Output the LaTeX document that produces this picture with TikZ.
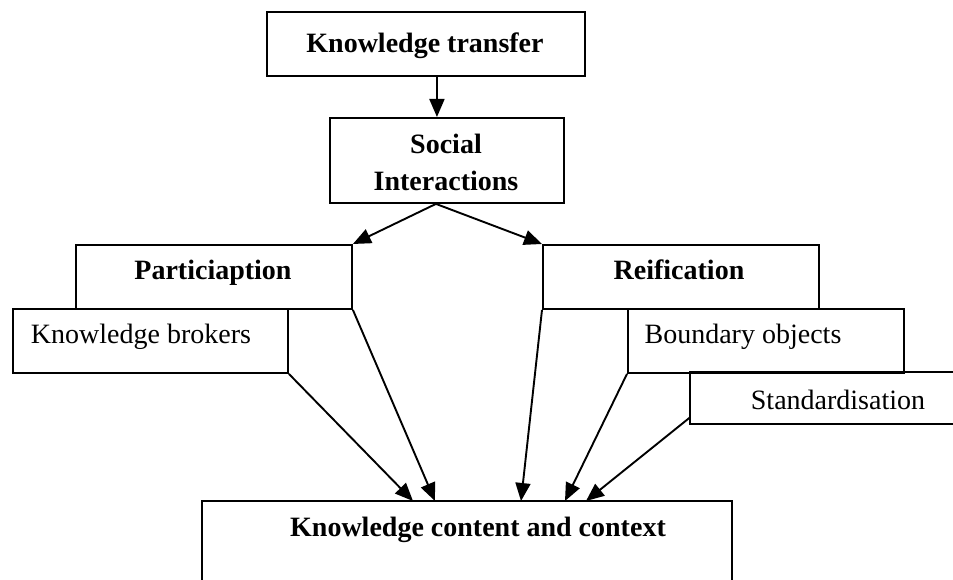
\documentclass[tikz,border=0pt]{standalone}
\usepackage{fontspec}
\setmainfont{Liberation Serif}
\usetikzlibrary{arrows.meta,calc}
\begin{document}
\begin{tikzpicture}[x=1pt,y=-1pt,
  box/.style={draw,line width=1.9pt,inner sep=0pt,anchor=north west},
  openbox/.style={inner sep=0pt,anchor=north west},
  edge/.style={line width=1.9pt},
  lbl/.style={anchor=base,inner sep=0pt,font=\fontsize{28}{36}\selectfont},
  blbl/.style={anchor=base,inner sep=0pt,font=\fontsize{28}{36}\selectfont\bfseries},
  conn/.style={line width=1.9pt,-{Triangle[length=18pt,width=15pt]}}]
\useasboundingbox (0,0) rectangle (953,580);

% boxes
\node[box,minimum width=318pt,minimum height=64pt] (kt) at (266,11) {};
\node[box,minimum width=234pt,minimum height=85pt] (si) at (329,117) {};
\node[box,minimum width=276pt,minimum height=64pt] (par) at (75,244) {};
\node[box,minimum width=275pt,minimum height=64pt] (kb) at (12,308) {};
\node[box,minimum width=276pt,minimum height=64pt] (rei) at (542,244) {};
\node[box,minimum width=276pt,minimum height=64pt] (bo) at (627,308) {};
\node[openbox,minimum width=263pt,minimum height=52pt] (std) at (690,372) {};
\draw[edge] (std.north east) -- (std.north west) -- (std.south west) -- (std.south east);
\node[openbox,minimum width=530pt,minimum height=79pt] (kcc) at (202,501) {};
\draw[edge] (kcc.south west) -- (kcc.north west) -- (kcc.north east) -- (kcc.south east);

% texts
\node[blbl] (ktt) at (425,53) {Knowledge transfer};
\node[blbl] (sit1) at (446,154) {Social};
\node[blbl] (sit2) at (446,191) {Interactions};
\node[blbl] (part) at (213,279) {Particiaption};
\node[blbl] (reit) at (679,279) {Reification};
\node[lbl] (kbt) at (141,343) {Knowledge brokers};
\node[lbl] (bot) at (743,343) {Boundary objects};
\node[lbl] (stdt) at (838,409) {Standardisation};
\node[blbl] (kcct) at (478,536) {Knowledge content and context};

% connectors
\draw[conn] ($(kt.south)+(11,0)$) -- ($(si.north)+(-10,0)$);
\draw[conn] ($(si.south)+(-11,0)$) -- (par.north east);
\draw[conn] ($(si.south)+(-11,0)$) -- (rei.north west);
\draw[conn] (kb.south east) -- ($(kcc.north west)+(211,0)$);
\draw[conn] (par.south east) -- ($(kcc.north west)+(233,0)$);
\draw[conn] (rei.south west) -- ($(kcc.north west)+(319,0)$);
\draw[conn] (bo.south west) -- ($(kcc.north west)+(363,0)$);
\draw[conn] ($(std.south west)+(0,-7)$) -- ($(kcc.north west)+(384,0)$);
\end{tikzpicture}
\end{document}
